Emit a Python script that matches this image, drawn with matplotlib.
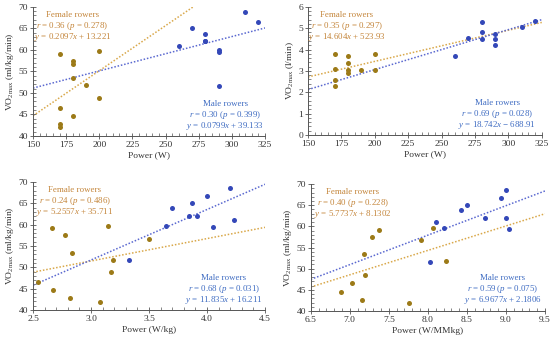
import numpy as np
import matplotlib
matplotlib.use("Agg")
import matplotlib.pyplot as plt
from matplotlib.ticker import MultipleLocator, FormatStrFormatter

plt.rcParams['font.family'] = ['Liberation Serif', 'DejaVu Serif']
plt.rcParams['mathtext.fontset'] = 'custom'
plt.rcParams['mathtext.rm'] = 'Liberation Serif'
plt.rcParams['mathtext.it'] = 'Liberation Serif:italic'

# ---- data ----
# Panel A: absolute power (W) vs relative VO2max
fA_x = [170, 170, 170, 170, 180, 180, 180, 180, 190, 200, 200]
fA_y = [59.0, 46.5, 42.8, 42.1, 57.5, 56.7, 53.4, 44.6, 51.8, 59.8, 48.8]
mA_x = [260, 270, 280, 280, 280, 290, 290, 290, 310, 320]
mA_y = [61.0, 65.0, 63.7, 62.1, 62.0, 59.9, 59.4, 51.7, 68.7, 66.6]

# Panel B: absolute power (W) vs absolute VO2max (L/min)
fB_x = [170, 170, 170, 170, 180, 180, 180, 180, 190, 200, 200]
fB_y = [3.77, 3.09, 2.56, 2.31, 3.69, 3.38, 3.02, 2.91, 3.05, 3.80, 3.06]
mB_x = [260, 270, 280, 280, 280, 290, 290, 290, 310, 320]
mB_y = [3.72, 4.52, 5.27, 4.80, 4.50, 4.73, 4.48, 4.23, 5.05, 5.33]

# Panel C: relative power (W/kg) vs relative VO2max
fC_x = [2.54, 2.66, 2.67, 2.78, 2.82, 2.84, 3.08, 3.15, 3.17, 3.19, 3.50]
fC_y = [46.6, 59.1, 44.6, 57.5, 42.9, 53.4, 41.9, 59.7, 48.8, 51.7, 56.6]
mC_x = [3.33, 3.65, 3.70, 3.84, 3.87, 3.91, 4.00, 4.05, 4.20, 4.23]
mC_y = [51.7, 59.7, 63.9, 62.0, 65.0, 62.0, 66.7, 59.4, 68.7, 61.0]

# Panel D: power (W/MMkg) vs relative VO2max
fD_x = [6.89, 7.03, 7.16, 7.18, 7.20, 7.28, 7.38, 7.76, 7.91, 8.07, 8.23]
fD_y = [44.5, 46.7, 42.7, 53.5, 48.6, 57.5, 59.1, 41.9, 56.7, 59.6, 51.7]
mD_x = [8.03, 8.11, 8.20, 8.43, 8.50, 8.73, 8.93, 9.00, 9.00, 9.04]
mD_y = [51.6, 61.0, 59.7, 63.8, 65.0, 62.0, 66.6, 68.7, 62.0, 59.4]

# regression coefficients (slope, intercept), as printed on the chart
fA_fit = (0.2097, 13.221)
mA_fit = (0.0799, 39.133)
fB_fit = (14.604 / 1000, 523.93 / 1000)
mB_fit = (18.742 / 1000, -688.91 / 1000)
fC_fit = (5.2557, 35.711)
mC_fit = (11.835, 16.211)
fD_fit = (5.7737, 8.1302)
mD_fit = (6.9677, 2.1806)

f_text = [["Female rowers", "$r$ = 0.36 ($p$ = 0.278)", "$y$ = 0.2097$x$ + 13.221"],
          ["Female rowers", "$r$ = 0.35 ($p$ = 0.297)", "$y$ = 14.604$x$ + 523.93"],
          ["Female rowers", "$r$ = 0.24 ($p$ = 0.486)", "$y$ = 5.2557$x$ + 35.711"],
          ["Female rowers", "$r$ = 0.40 ($p$ = 0.228)", "$y$ = 5.7737$x$ + 8.1302"]]
m_text = [["Male rowers", "$r$ = 0.30 ($p$ = 0.399)", "$y$ = 0.0799$x$ + 39.133"],
          ["Male rowers", "$r$ = 0.69 ($p$ = 0.028)", "$y$ = 18.742$x$ \u2212 688.91"],
          ["Male rowers", "$r$ = 0.68 ($p$ = 0.031)", "$y$ = 11.835$x$ + 16.211"],
          ["Male rowers", "$r$ = 0.59 ($p$ = 0.075)", "$y$ = 6.9677$x$ + 2.1806"]]

xlabels = ["Power (W)", "Power (W)", "Power (W/kg)", "Power (W/MMkg)"]
ylabels = ["VO$_{\\mathrm{2max}}$ (ml/kg/min)", "VO$_{\\mathrm{2max}}$ (l/min)",
           "VO$_{\\mathrm{2max}}$ (ml/kg/min)", "VO$_{\\mathrm{2max}}$ (ml/kg/min)"]

FEM_PT = '#9c7a18'
FEM_LN = '#d9a84a'
FEM_TX = '#c4853a'
MAL_PT = '#3448b8'
MAL_LN = '#5a68d0'
MAL_TX = '#3f6cc2'

fig = plt.figure(figsize=(5.5, 3.44), dpi=100)
rects = [[0.060, 0.605, 0.422, 0.375],
         [0.560, 0.608, 0.425, 0.372],
         [0.060, 0.099, 0.422, 0.372],
         [0.565, 0.096, 0.426, 0.369]]

panels = [
    (fA_x, fA_y, mA_x, mA_y, fA_fit, mA_fit, (150, 325), (40, 70), 25, 5, 5, 1, '%d', '%d'),
    (fB_x, fB_y, mB_x, mB_y, fB_fit, mB_fit, (150, 325), (0, 6), 25, 5, 1, 0.2, '%d', '%d'),
    (fC_x, fC_y, mC_x, mC_y, fC_fit, mC_fit, (2.5, 4.5), (40, 70), 0.5, 0.1, 5, 1, '%.1f', '%d'),
    (fD_x, fD_y, mD_x, mD_y, fD_fit, mD_fit, (6.5, 9.5), (40, 70), 0.5, 0.1, 5, 1, '%.1f', '%d'),
]

f_pos = [(0.17, 0.935), (0.167, 0.935), (0.18, 0.935), (0.18, 0.935)]
m_pos = [(0.828, 0.245), (0.81, 0.246), (0.823, 0.246), (0.82, 0.256)]
dy = 0.086
fs = 6.4

for i, (fx, fy, mx, my, ff, mf, xl, yl, xmaj, xmin, ymaj, ymin, xfmt, yfmt) in enumerate(panels):
    ax = fig.add_axes(rects[i])
    xs = np.array(xl, dtype=float)
    ax.plot(xs, ff[0] * xs + ff[1], linestyle=(0, (1, 1.2)), color=FEM_LN, lw=1.1, zorder=2)
    ax.plot(xs, mf[0] * xs + mf[1], linestyle=(0, (1, 1.2)), color=MAL_LN, lw=1.1, zorder=2)
    ax.scatter(fx, fy, s=13, color=FEM_PT, zorder=3, linewidths=0)
    ax.scatter(mx, my, s=13, color=MAL_PT, zorder=3, linewidths=0)
    ax.set_xlim(xl)
    ax.set_ylim(yl)
    ax.xaxis.set_major_locator(MultipleLocator(xmaj))
    ax.xaxis.set_minor_locator(MultipleLocator(xmin))
    ax.yaxis.set_major_locator(MultipleLocator(ymaj))
    ax.yaxis.set_minor_locator(MultipleLocator(ymin))
    ax.xaxis.set_major_formatter(FormatStrFormatter(xfmt))
    ax.yaxis.set_major_formatter(FormatStrFormatter(yfmt))
    for s in ['top', 'right']:
        ax.spines[s].set_visible(False)
    for s in ['left', 'bottom']:
        ax.spines[s].set_color('#555555')
        ax.spines[s].set_linewidth(0.7)
    ax.tick_params(which='major', direction='inout', length=4, width=0.6,
                   colors='#555555', labelsize=6.8, labelcolor='#333333', pad=1.5)
    ax.tick_params(which='minor', direction='in', length=2, width=0.5, colors='#555555')
    ax.set_xlabel(xlabels[i], fontsize=6.8, color='#333333', labelpad=2)
    ax.set_ylabel(ylabels[i], fontsize=6.8, color='#333333', labelpad=2)
    fxp, fyp = f_pos[i]
    for k, t in enumerate(f_text[i]):
        ax.text(fxp, fyp - k * dy, t, transform=ax.transAxes, ha='center', va='center',
                fontsize=fs, color=FEM_TX)
    mxp, myp = m_pos[i]
    for k, t in enumerate(m_text[i]):
        ax.text(mxp, myp - k * dy, t, transform=ax.transAxes, ha='center', va='center',
                fontsize=fs, color=MAL_TX)

fig.savefig('out.png', dpi=100)
